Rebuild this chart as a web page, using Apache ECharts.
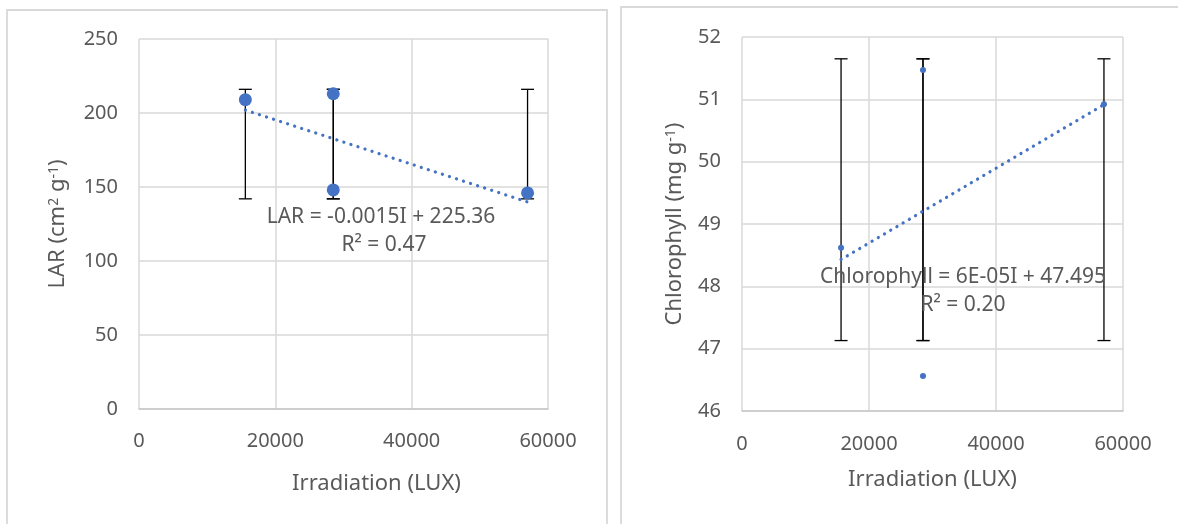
<!DOCTYPE html>
<html>
<head>
<meta charset="utf-8">
<title>LAR and Chlorophyll vs Irradiation</title>
<script src="https://cdn.jsdelivr.net/npm/echarts@6/dist/echarts.min.js"></script>
<style>
  html, body { margin: 0; padding: 0; background: #ffffff; }
  #chart { width: 1178px; height: 524px; }
</style>
</head>
<body>
<div id="chart"></div>
<script>
// Irradiation levels (LUX) shared by both panels
const irradiation = [15600, 28500, 28500, 57000];

// Leaf area ratio (cm2 g-1) with error bar limits
const lar = [209, 213, 148, 146];
const larErrLow = [142, 142, 142, 142];
const larErrHigh = [216, 216, 216, 216];

// Chlorophyll (mg g-1) with error bar limits
const chlorophyll = [48.62, 51.47, 46.56, 50.92];
const chlErrLow = [47.13, 47.13, 47.13, 47.13];
const chlErrHigh = [51.65, 51.65, 51.65, 51.65];

// Linear trendlines as reported in the equations
const larTrend = { slope: -0.0015, intercept: 225.36, r2: '0.47' };
const chlTrend = { slope: 6e-5, intercept: 47.495, r2: '0.20' };

const xTicks = { min: 0, max: 60000, interval: 20000 };
const larTicks = { min: 0, max: 250, interval: 50 };
const chlTicks = { min: 46, max: 52, interval: 1 };

const BLUE = '#4472C4';
const TEXT = '#595959';
const GRID = '#d9d9d9';
const FONT = 'Noto Sans';

function trendPoints(t) {
  const lo = Math.min(...irradiation);
  const hi = Math.max(...irradiation);
  return [[lo, t.slope * lo + t.intercept], [hi, t.slope * hi + t.intercept]];
}

function errData(lows, highs) {
  return irradiation.map((x, i) => [x, lows[i], highs[i]]);
}

function errorBarItem(params, api) {
  const x = api.value(0);
  const lo = api.coord([x, api.value(1)]);
  const hi = api.coord([x, api.value(2)]);
  const half = 6.5;
  const style = { stroke: '#000000', lineWidth: 1.3 };
  return {
    type: 'group',
    children: [
      { type: 'line', shape: { x1: lo[0], y1: lo[1], x2: hi[0], y2: hi[1] }, style },
      { type: 'line', shape: { x1: lo[0] - half, y1: lo[1], x2: lo[0] + half, y2: lo[1] }, style },
      { type: 'line', shape: { x1: hi[0] - half, y1: hi[1], x2: hi[0] + half, y2: hi[1] }, style }
    ]
  };
}

function xAxisCfg(gridIndex, nameGap, namePad, labelMargin) {
  return {
    type: 'value', gridIndex,
    min: xTicks.min, max: xTicks.max, interval: xTicks.interval,
    name: 'Irradiation (LUX)', nameLocation: 'middle', nameGap,
    nameTextStyle: { color: TEXT, fontSize: 22, fontFamily: FONT, padding: namePad },
    axisLine: { show: true, lineStyle: { color: '#c8c8c8', width: 1.5 } },
    axisTick: { show: false },
    axisLabel: { color: TEXT, fontSize: 20, fontFamily: FONT, margin: labelMargin,
                 formatter: v => String(v) },
    splitLine: { show: true, lineStyle: { color: GRID, width: 1.5 } }
  };
}

function yAxisCfg(gridIndex, ticks, name, nameGap) {
  return {
    type: 'value', gridIndex,
    min: ticks.min, max: ticks.max, interval: ticks.interval,
    name, nameLocation: 'middle', nameGap, nameRotate: 90,
    nameTextStyle: {
      color: TEXT, fontSize: 22, fontFamily: FONT,
      rich: {
        b: { color: TEXT, fontSize: 22, fontFamily: FONT },
        s: { color: TEXT, fontSize: 14, fontFamily: FONT, verticalAlign: 'top' }
      }
    },
    axisLine: { show: false },
    axisTick: { show: false },
    axisLabel: { color: TEXT, fontSize: 20, fontFamily: FONT, margin: 21 },
    splitLine: { show: true, lineStyle: { color: GRID, width: 1.5 } }
  };
}

const eqStyle = { fill: TEXT, fontSize: 21, fontFamily: FONT, align: 'center', verticalAlign: 'middle' };

const option = {
  backgroundColor: '#ffffff',
  animation: false,
  grid: [
    { left: 139, top: 39, width: 409, height: 370 },
    { left: 742, top: 37, width: 381, height: 374 }
  ],
  xAxis: [xAxisCfg(0, 64, [0, 0, 0, 66], 22), xAxisCfg(1, 58, [0, 0, 0, 0], 23)],
  yAxis: [
    yAxisCfg(0, larTicks, '{b|LAR (cm}{s|2}{b| g}{s|-1}{b|)}', 70),
    yAxisCfg(1, chlTicks, '{b|Chlorophyll (mg g}{s|-1}{b|)}', 56)
  ],
  graphic: [
    { type: 'rect', silent: true, z: -10,
      shape: { x: 7, y: 10, width: 600, height: 540 },
      style: { fill: 'none', stroke: GRID, lineWidth: 1.8 } },
    { type: 'rect', silent: true, z: -10,
      shape: { x: 621, y: 7, width: 600, height: 540 },
      style: { fill: 'none', stroke: GRID, lineWidth: 1.8 } },
    { type: 'text', x: 381, y: 217, z: 100,
      style: Object.assign({ text: 'LAR = -0.0015I + 225.36' }, eqStyle) },
    { type: 'text', x: 384, y: 245, z: 100,
      style: Object.assign({ text: 'R² = ' + larTrend.r2 }, eqStyle) },
    { type: 'text', x: 963, y: 277, z: 100,
      style: Object.assign({ text: 'Chlorophyll = 6E-05I + 47.495' }, eqStyle) },
    { type: 'text', x: 963, y: 305, z: 100,
      style: Object.assign({ text: 'R² = ' + chlTrend.r2 }, eqStyle) }
  ],
  series: [
    { type: 'custom', xAxisIndex: 0, yAxisIndex: 0, z: 1,
      renderItem: errorBarItem, data: errData(larErrLow, larErrHigh) },
    { type: 'line', xAxisIndex: 0, yAxisIndex: 0, z: 2, symbol: 'none',
      lineStyle: { color: BLUE, width: 3.2, type: [0.1, 7.3], cap: 'round' },
      data: trendPoints(larTrend) },
    { type: 'scatter', xAxisIndex: 0, yAxisIndex: 0, z: 3, symbolSize: 13,
      itemStyle: { color: BLUE, opacity: 1 },
      data: irradiation.map((x, i) => [x, lar[i]]) },

    { type: 'custom', xAxisIndex: 1, yAxisIndex: 1, z: 1,
      renderItem: errorBarItem, data: errData(chlErrLow, chlErrHigh) },
    { type: 'line', xAxisIndex: 1, yAxisIndex: 1, z: 2, symbol: 'none',
      lineStyle: { color: BLUE, width: 3.2, type: [0.1, 7.1], cap: 'round' },
      data: trendPoints(chlTrend) },
    { type: 'scatter', xAxisIndex: 1, yAxisIndex: 1, z: 3, symbolSize: 6,
      itemStyle: { color: BLUE, opacity: 1 },
      data: irradiation.map((x, i) => [x, chlorophyll[i]]) }
  ]
};

const chart = echarts.init(document.getElementById('chart'), null, { renderer: 'canvas' });
chart.setOption(option);
</script>
</body>
</html>
